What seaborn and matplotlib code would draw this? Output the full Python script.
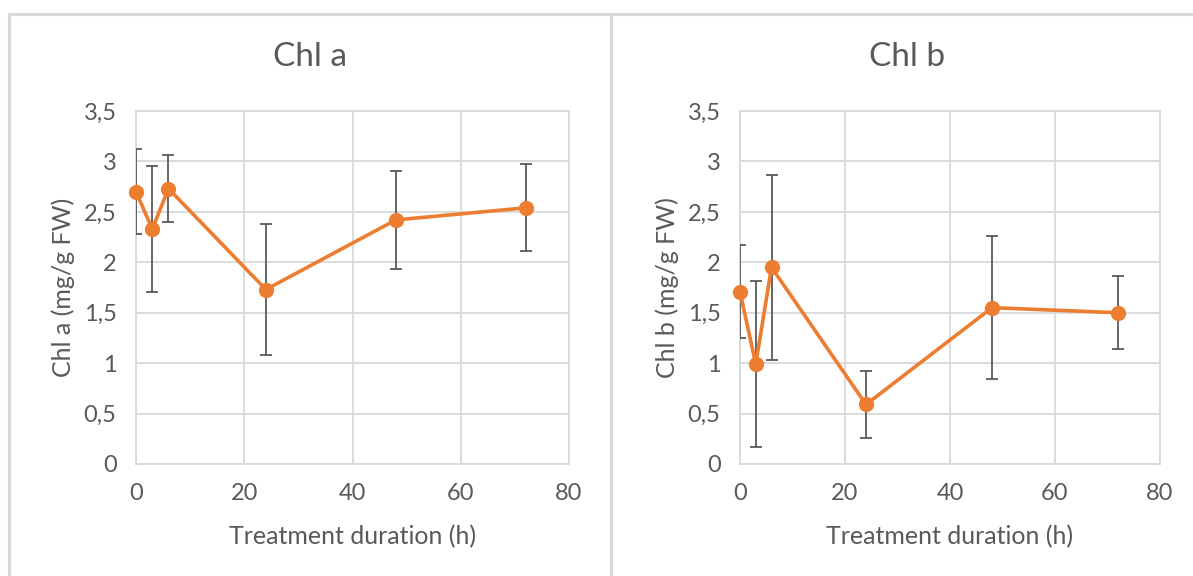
import numpy as np
import pandas as pd
import seaborn as sns
import matplotlib.pyplot as plt
from matplotlib.lines import Line2D
from matplotlib.ticker import FuncFormatter

# data
hours = [0, 3, 6, 24, 48, 72]
chl_a = [2.70, 2.33, 2.73, 1.73, 2.42, 2.54]
chl_a_err = [0.42, 0.62, 0.33, 0.65, 0.49, 0.43]
chl_b = [1.71, 0.99, 1.95, 0.59, 1.55, 1.50]
chl_b_err = [0.46, 0.82, 0.92, 0.33, 0.71, 0.36]

panels = [
    ("Chl a", "Chl a (mg/g FW)", chl_a, chl_a_err),
    ("Chl b", "Chl b (mg/g FW)", chl_b, chl_b_err),
]

sns.set_style("white")
plt.rcParams['font.family'] = ['Lato', 'DejaVu Sans']

text_grey = '#595959'
grid_grey = '#d9d9d9'
orange = '#ED7D31'

W, H = 1193, 576
fig = plt.figure(figsize=(W / 100, H / 100), dpi=100)

# axes boxes in pixels: (left, right) x, plot area from y=111 to y=464
axes_px = [(136, 569), (740, 1160)]
title_x = [310, 907]

for (x0, x1), tx, (title, ylab, vals, errs) in zip(axes_px, title_x, panels):
    ax = fig.add_axes([x0 / W, (H - 464) / H, (x1 - x0) / W, (464 - 111) / H])
    df = pd.DataFrame({'hours': hours, 'value': vals, 'err': errs})

    ax.errorbar(df['hours'], df['value'], yerr=df['err'], fmt='none',
                ecolor=text_grey, elinewidth=1.3, capsize=4, capthick=1.3, zorder=2.7)
    sns.lineplot(data=df, x='hours', y='value', ax=ax, color=orange, lw=2.6,
                 marker='o', markersize=11, markeredgewidth=0, zorder=3, clip_on=False)

    ax.set_xlim(0, 80)
    ax.set_ylim(0, 3.5)
    ax.set_xticks([0, 20, 40, 60, 80])
    ax.set_yticks(np.arange(0, 3.51, 0.5))
    ax.yaxis.set_major_formatter(FuncFormatter(lambda v, p: f"{v:g}".replace('.', ',')))
    ax.grid(True, color=grid_grey, lw=1.3)
    ax.set_axisbelow(True)
    for s in ax.spines.values():
        s.set_color(grid_grey)
        s.set_linewidth(1.3)
    ax.tick_params(length=0, pad=14, labelsize=17, labelcolor=text_grey)

    ax.set_xlabel("Treatment duration (h)", fontsize=18, color=text_grey, labelpad=15)
    ax.set_ylabel(ylab, fontsize=18, color=text_grey, labelpad=6)

    fig.text(tx / W, 1 - 57 / H, title, fontsize=24, color=text_grey,
             ha='center', va='center')

# chart area borders like the Excel chart objects
border = dict(color=grid_grey, lw=2.2)
fig.add_artist(Line2D([9 / W, 9 / W], [0, 1 - 14 / H], **border))
fig.add_artist(Line2D([9 / W, 1], [1 - 14 / H, 1 - 14 / H], **border))
fig.add_artist(Line2D([611 / W, 611 / W], [0, 1 - 14 / H], **border))

fig.savefig('out.png', dpi=100)
